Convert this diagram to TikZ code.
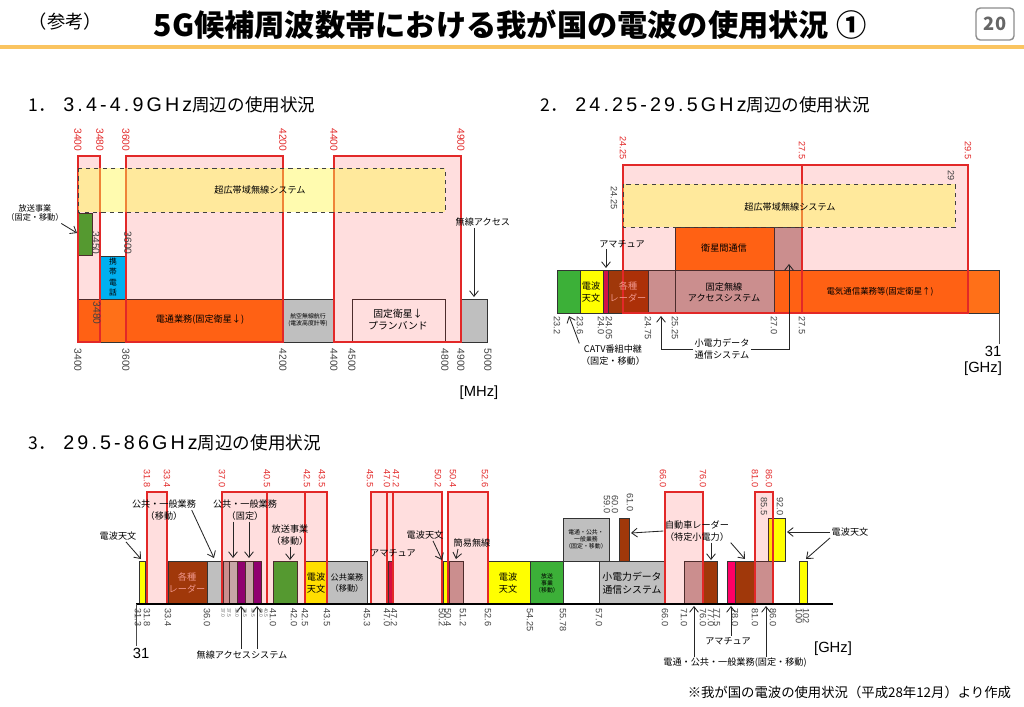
\documentclass[tikz,border=0pt]{standalone}
\usepackage{fontspec}
\setmainfont{Noto Sans CJK JP}
\newfontfamily\numfont{Liberation Sans}
\newfontfamily\headlatin[LetterSpace=16]{Liberation Sans}
\usepackage{tikz}
\usetikzlibrary{positioning, arrows.meta}

\definecolor{headline}{RGB}{250,196,96}
\definecolor{bandgreen}{RGB}{60,176,56}
\definecolor{bandcyan}{RGB}{0,176,240}
\definecolor{bandorange}{RGB}{255,112,24}
\definecolor{bandgray}{RGB}{191,191,191}
\definecolor{bandmauve}{RGB}{196,164,164}
\definecolor{bandbrown}{RGB}{160,56,10}
\definecolor{bandpurple}{RGB}{128,0,128}
\definecolor{bandcrimson}{RGB}{210,16,72}
\definecolor{bandhotpink}{RGB}{255,0,102}
\definecolor{bandyellow}{RGB}{255,255,0}
\definecolor{boxred}{RGB}{226,40,40}
\definecolor{radartext}{RGB}{240,150,140}

\begin{document}
\begin{tikzpicture}[x=0.025cm, y=-0.025cm,
    band/.style={draw=black!80, line width=0.4pt},
    pink_box/.style={fill=red, fill opacity=0.13, draw=boxred, line width=0.9pt},
    uwb_box/.style={fill=yellow!70, fill opacity=0.45, draw=black!75, dashed, line width=0.5pt},
    red_mhz/.style={rotate=-90, anchor=east, text=boxred, font=\numfont\fontsize{7.3}{8}\selectfont, inner sep=1pt},
    red_ghz/.style={rotate=-90, anchor=east, text=boxred, font=\numfont\fontsize{6.5}{7}\selectfont, inner sep=1pt},
    tick_mhz/.style={rotate=-90, anchor=west, text=black!75, font=\numfont\fontsize{7.3}{8}\selectfont, inner sep=1pt},
    tick_ghz/.style={rotate=-90, anchor=west, text=black!75, font=\numfont\fontsize{6.5}{7}\selectfont, inner sep=1pt},
    tick_tiny/.style={rotate=-90, anchor=west, text=black!60, font=\numfont\fontsize{3.5}{4}\selectfont, inner sep=0.5pt},
    small_text/.style={font=\fontsize{6.5}{8}\selectfont, align=center, inner sep=1pt},
    tiny_text/.style={font=\fontsize{4.2}{5}\selectfont, align=center, inner sep=0.5pt},
    unit_text/.style={font=\numfont\fontsize{10.5}{12}\selectfont, inner sep=1pt},
    heading/.style={anchor=west, font=\fontsize{12.5}{14}\selectfont},
    arrow_style/.style={draw=black!85, line width=0.6pt, -{Straight Barb[length=1.4mm, width=2.2mm]}}
]
\useasboundingbox (0,0) rectangle (1024,706);

% Header
\node[anchor=west, font=\fontsize{13}{15}\selectfont] (sankou) at (24,22) {（参考）};
\node[font=\bfseries\fontsize{21.5}{24}\selectfont] (title) at (510,25) {5G候補周波数帯における我が国の電波の使用状況 ①};
\draw[draw=black!45, line width=1pt, rounded corners=3pt] (976,8) rectangle (1014,40);
\node[font=\bfseries\fontsize{13}{15}\selectfont, text=black!60] (page) at (995,24) {20};
\draw[draw=headline, line width=2.5pt] (0,47) -- (1024,47);

% ---------------- Section 1: 3.4-4.9GHz ----------------
\node[heading] (h1) at (24,105) {1．\hspace{0.4em}{\headlatin\fontsize{14}{15}\selectfont 3.4-4.9GHz}周辺の使用状況};

% bands
\draw[band, fill=bandgreen] (78,213) rectangle (92,255);
\draw[band, fill=bandcyan] (100,256) rectangle (126,299);
\draw[band, fill=bandorange] (78,299) rectangle (283,342);
\draw[band, fill=bandgray] (283,299) rectangle (334,342);
\draw[band, fill=white] (352,299) rectangle (445,342);
\draw[band, fill=bandgray] (461,299) rectangle (487,342);

% candidate bands
\draw[pink_box] (78,156) rectangle (100,342);
\draw[pink_box] (126,156) rectangle (283,342);
\draw[pink_box] (334,156) rectangle (461,342);
\draw[uwb_box] (78,168) rectangle (445,212);

% texts
\node[small_text] (s1_uwb) at (260,190) {超広帯域無線システム};
\node[small_text] (s1_fss) at (200,320) {電通業務(固定衛星↓)};
\node[tiny_text] (s1_aero) at (308,320) {航空無線航行\\(電波高度計等)};
\node[small_text, font=\fontsize{7}{8.5}\selectfont] (s1_plan) at (398,320) {固定衛星↓\\プランバンド};
\node[small_text, font=\fontsize{5.5}{7.4}\selectfont] (s1_mobile) at (113,277) {携\\帯\\電\\話};
\node[small_text, anchor=west] (s1_bwa) at (454,222) {無線アクセス};
\node[small_text, font=\fontsize{5.8}{7}\selectfont] (s1_bcast) at (35,213) {放送事業\\（固定・移動）};

% arrows
\coordinate (s1_bwa_tip) at (474,297);
\coordinate (s1_green_tip) at (77,233);
\draw[arrow_style] (s1_bwa.south -| s1_bwa_tip) -- (s1_bwa_tip);
\draw[arrow_style] ([xshift=-0.1cm]s1_bcast.south east) -- (s1_green_tip);

% frequencies
\node[red_mhz] (s1_r3400) at (78,153) {3400};
\node[red_mhz] (s1_r3480) at (100,153) {3480};
\node[red_mhz] (s1_r3600) at (126,153) {3600};
\node[red_mhz] (s1_r4200) at (283,153) {4200};
\node[red_mhz] (s1_r4400) at (334,153) {4400};
\node[red_mhz] (s1_r4900) at (461,153) {4900};
\node[tick_mhz] (s1_i3450) at (96,230) {3450};
\node[tick_mhz] (s1_i3600) at (128,230) {3600};
\node[tick_mhz] (s1_i3480) at (97,300) {3480};
\node[tick_mhz] (s1_b3400) at (78,347) {3400};
\node[tick_mhz] (s1_b3600) at (126,347) {3600};
\node[tick_mhz] (s1_b4200) at (283,347) {4200};
\node[tick_mhz] (s1_b4400) at (334,347) {4400};
\node[tick_mhz] (s1_b4500) at (352,347) {4500};
\node[tick_mhz] (s1_b4800) at (445,347) {4800};
\node[tick_mhz] (s1_b4900) at (461,347) {4900};
\node[tick_mhz] (s1_b5000) at (488,347) {5000};
\node[unit_text] (s1_unit) at (479,393) {[MHz]};

% ---------------- Section 2: 24.25-29.5GHz ----------------
\node[heading] (h2) at (536,105) {2．\hspace{0.4em}{\headlatin\fontsize{14}{15}\selectfont 24.25-29.5GHz}周辺の使用状況};

% bands
\draw[band, fill=bandgreen] (557,270) rectangle (580,313);
\draw[band, fill=bandyellow] (580,270) rectangle (603,313);
\draw[band, fill=bandcrimson] (603,270) rectangle (608,313);
\draw[band, fill=bandbrown] (608,270) rectangle (648,313);
\draw[band, fill=bandmauve] (648,270) rectangle (675,313);
\draw[band, fill=bandmauve] (675,270) rectangle (774,313);
\draw[band, fill=bandorange] (774,270) rectangle (999,313);
\draw[band, fill=bandorange] (675,227) rectangle (774,270);
\draw[band, fill=bandmauve] (774,227) rectangle (802,270);

% candidate bands
\draw[pink_box] (623,165) rectangle (802,313);
\draw[pink_box] (802,165) rectangle (968,313);
\draw[uwb_box] (623,184) rectangle (955,227);

% texts
\node[small_text] (s2_uwb) at (790,207) {超広帯域無線システム};
\node[small_text] (s2_isl) at (724,248) {衛星間通信};
\node[small_text] (s2_fwa) at (724,292) {固定無線\\アクセスシステム};
\node[small_text] (s2_ra) at (591,292) {電波\\天文};
\node[small_text, text=radartext] (s2_radar) at (628,292) {各種\\レーダー};
\node[small_text, font=\fontsize{6}{7}\selectfont] (s2_fss) at (880,292) {電気通信業務等(固定衛星↑)};
\node[small_text] (s2_amateur) at (622,244) {アマチュア};
\node[small_text] (s2_catv) at (613,355) {CATV番組中継\\（固定・移動）};
\node[small_text] (s2_srd) at (722,349) {小電力データ\\通信システム};

% arrows
\coordinate (s2_amateur_tip) at (606,268);
\coordinate (s2_catv_tip) at (569,316);
\coordinate (s2_srd_tip1) at (661,316);
\coordinate (s2_srd_tip2) at (789,264);
\draw[arrow_style] (s2_amateur.south -| s2_amateur_tip) -- (s2_amateur_tip);
\draw[arrow_style] (s2_catv.north west) -- (s2_catv_tip);
\draw[arrow_style] (s2_srd.west) -| (s2_srd_tip1);
\draw[arrow_style] (s2_srd.east) -| (s2_srd_tip2);

% frequencies
\node[red_ghz] (s2_r2425) at (623,161) {24.25};
\node[red_ghz] (s2_r275) at (802,161) {27.5};
\node[red_ghz] (s2_r295) at (968,161) {29.5};
\node[tick_ghz] (s2_i2425) at (614,185) {24.25};
\node[tick_ghz] (s2_i29) at (951,169) {29};
\node[tick_ghz] (s2_b232) at (557,315) {23.2};
\node[tick_ghz] (s2_b236) at (580,315) {23.6};
\node[tick_ghz] (s2_b240) at (601,315) {24.0};
\node[tick_ghz] (s2_b2405) at (609,315) {24.05};
\node[tick_ghz] (s2_b2475) at (648,315) {24.75};
\node[tick_ghz] (s2_b2525) at (675,315) {25.25};
\node[tick_ghz] (s2_b270) at (774,315) {27.0};
\node[tick_ghz] (s2_b275) at (802,315) {27.5};
\node[unit_text] (s2_31) at (993,351) {31};
\draw[black!70] (999,313) -- (s2_31.north -| 999,313);
\node[unit_text] (s2_unit) at (983,369) {[GHz]};

% ---------------- Section 3: 29.5-86GHz ----------------
\node[heading] (h3) at (24,443) {3．\hspace{0.4em}{\headlatin\fontsize{14}{15}\selectfont 29.5-86GHz}周辺の使用状況};

% lower bands
\draw[band, fill=bandyellow] (139,561) rectangle (145,604);
\draw[band, fill=bandbrown] (168,561) rectangle (207,604);
\draw[band, fill=bandgray] (207,561) rectangle (223,604);
\draw[band, fill=bandmauve] (223,561) rectangle (229,604);
\draw[band, fill=bandgray] (229,561) rectangle (237,604);
\draw[band, fill=bandpurple] (237,561) rectangle (245,604);
\draw[band, fill=bandgray] (245,561) rectangle (253,604);
\draw[band, fill=bandpurple] (253,561) rectangle (261,604);
\draw[band, fill=bandgreen] (273,561) rectangle (297,604);
\draw[band, fill=bandyellow] (305,561) rectangle (327,604);
\draw[band, fill=bandgray] (327,561) rectangle (367,604);
\draw[band, fill=bandcrimson] (388,561) rectangle (393,604);
\draw[band, fill=bandyellow] (443,561) rectangle (448,604);
\draw[band, fill=bandmauve] (449,561) rectangle (463,604);
\draw[band, fill=bandyellow] (488,561) rectangle (530,604);
\draw[band, fill=bandgreen] (530,561) rectangle (563,604);
\draw[band, fill=bandgray] (599,561) rectangle (665,604);
\draw[band, fill=bandmauve] (684,561) rectangle (703,604);
\draw[band, fill=bandbrown] (703,561) rectangle (717,604);
\draw[band, fill=bandhotpink] (727,561) rectangle (735,604);
\draw[band, fill=bandbrown] (735,561) rectangle (755,604);
\draw[band, fill=bandmauve] (755,561) rectangle (773,604);
\draw[band, fill=bandyellow] (799,561) rectangle (807,604);

% upper bands
\draw[band, fill=bandgray] (563,518) rectangle (609,561);
\draw[band, fill=bandbrown] (619,518) rectangle (629,561);
\draw[band, fill=bandyellow] (768,518) rectangle (785,561);

% candidate bands
\draw[pink_box] (147,492) rectangle (167,604);
\draw[pink_box] (222,492) rectangle (267,604);
\draw[pink_box] (267,492) rectangle (305,604);
\draw[pink_box] (305,492) rectangle (327,604);
\draw[pink_box] (371,492) rectangle (387,604);
\draw[pink_box] (387,492) rectangle (393,604);
\draw[pink_box] (393,492) rectangle (442,604);
\draw[pink_box] (448,492) rectangle (488,604);
\draw[pink_box] (665,492) rectangle (703,604);
\draw[pink_box] (755,492) rectangle (773,604);

% axis
\draw[line width=1.5pt] (136,604) -- (833,604);
\node[unit_text] (s3_31) at (141,653) {31};
\draw[black!70] (136,604) -- (s3_31.north -| 136,604);
\node[unit_text] (s3_unit) at (833,649) {[GHz]};

% texts
\node[small_text, text=radartext] (s3_radar) at (187,583) {各種\\レーダー};
\node[small_text] (s3_ra2) at (316,583) {電波\\天文};
\node[small_text, font=\fontsize{5.8}{7.5}\selectfont] (s3_pubm) at (347,583) {公共業務\\（移動）};
\node[small_text] (s3_ra4) at (508,583) {電波\\天文};
\node[tiny_text] (s3_bc2) at (547,583) {放送\\事業\\（移動）};
\node[tiny_text] (s3_tel) at (586,539) {電通・公共・\\一般業務\\（固定・移動）};
\node[small_text, font=\fontsize{7}{9}\selectfont] (s3_srd) at (632,583) {小電力データ\\通信システム};
\node[small_text] (s3_ra1) at (118,536) {電波天文};
\node[small_text] (s3_pub1) at (164,510) {公共・一般業務\\（移動）};
\node[small_text] (s3_pub2) at (245,510) {公共・一般業務\\（固定）};
\node[small_text] (s3_bc) at (290,535) {放送事業\\（移動）};
\node[small_text] (s3_bwa) at (242,655) {無線アクセスシステム};
\node[small_text] (s3_amateur1) at (393,553) {アマチュア};
\node[small_text] (s3_ra3) at (425,535) {電波天文};
\node[small_text] (s3_simple) at (472,543) {簡易無線};
\node[small_text] (s3_car) at (697,531) {自動車レーダー\\（特定小電力）};
\node[small_text] (s3_amateur2) at (728,641) {アマチュア};
\node[small_text] (s3_tel2) at (735,663) {電通・公共・一般業務(固定・移動)};
\node[small_text] (s3_ra5) at (850,532) {電波天文};

% arrows
\coordinate (s3_ra1_tip) at (141,559);
\coordinate (s3_pub1_tip) at (214,558);
\coordinate (s3_pub2_tip1) at (233,558);
\coordinate (s3_pub2_tip2) at (249,558);
\coordinate (s3_bc_tip) at (290,560);
\coordinate (s3_bwa_tip1) at (241,606);
\coordinate (s3_bwa_tip2) at (257,606);
\coordinate (s3_ra3_tip) at (442,560);
\coordinate (s3_simple_tip) at (456,559);
\coordinate (s3_car_tip1) at (631,533);
\coordinate (s3_car_tip2) at (711,560);
\coordinate (s3_car_tip3) at (745,559);
\coordinate (s3_amateur2_tip) at (731,606);
\coordinate (s3_tel2_tip1) at (694,606);
\coordinate (s3_tel2_tip2) at (766,606);
\coordinate (s3_ra5_tip1) at (787,532);
\coordinate (s3_ra5_tip2) at (806,559);
\draw[arrow_style] ([xshift=0.2cm]s3_ra1.south) -- (s3_ra1_tip);
\draw[arrow_style] ([xshift=-0.15cm]s3_pub1.east) -- (s3_pub1_tip);
\draw[arrow_style] (s3_pub2.south -| s3_pub2_tip1) -- (s3_pub2_tip1);
\draw[arrow_style] (s3_pub2.south -| s3_pub2_tip2) -- (s3_pub2_tip2);
\draw[arrow_style] (s3_bc.south) -- (s3_bc_tip);
\draw[arrow_style] (s3_bwa.north -| s3_bwa_tip1) -- (s3_bwa_tip1);
\draw[arrow_style] (s3_bwa.north -| s3_bwa_tip2) -- (s3_bwa_tip2);
\draw[arrow_style] ([xshift=0.2cm]s3_ra3.south) -- (s3_ra3_tip);
\draw[arrow_style] ([xshift=-0.35cm]s3_simple.south) -- (s3_simple_tip);
\draw[arrow_style] (s3_car.west) -- (s3_car_tip1);
\draw[arrow_style] (s3_car.south -| s3_car_tip2) -- (s3_car_tip2);
\draw[arrow_style] (s3_car.south east) -- (s3_car_tip3);
\draw[arrow_style] (s3_amateur2.north -| s3_amateur2_tip) -- (s3_amateur2_tip);
\draw[arrow_style] (s3_tel2.north -| s3_tel2_tip1) -- (s3_tel2_tip1);
\draw[arrow_style] (s3_tel2.north -| s3_tel2_tip2) -- (s3_tel2_tip2);
\draw[arrow_style] (s3_ra5.west) -- (s3_ra5_tip1);
\draw[arrow_style] (s3_ra5.south west) -- (s3_ra5_tip2);

% frequencies (top, red)
\node[red_ghz] (s3_r318) at (147,489) {31.8};
\node[red_ghz] (s3_r334) at (167,489) {33.4};
\node[red_ghz] (s3_r370) at (222,489) {37.0};
\node[red_ghz] (s3_r405) at (267,489) {40.5};
\node[red_ghz] (s3_r425) at (307,489) {42.5};
\node[red_ghz] (s3_r435) at (322,489) {43.5};
\node[red_ghz] (s3_r455) at (370,489) {45.5};
\node[red_ghz] (s3_r470) at (387,489) {47.0};
\node[red_ghz] (s3_r472) at (396,489) {47.2};
\node[red_ghz] (s3_r502) at (438,489) {50.2};
\node[red_ghz] (s3_r504) at (453,489) {50.4};
\node[red_ghz] (s3_r526) at (485,489) {52.6};
\node[red_ghz] (s3_r660) at (663,489) {66.0};
\node[red_ghz] (s3_r760) at (703,489) {76.0};
\node[red_ghz] (s3_r810) at (755,489) {81.0};
\node[red_ghz] (s3_r860) at (769,489) {86.0};

% frequencies (upper bands)
\node[red_ghz, text=black!75] (s3_u590) at (607,515) {59.0};
\node[red_ghz, text=black!75] (s3_u600) at (615,515) {60.0};
\node[red_ghz, text=black!75] (s3_u610) at (630,513) {61.0};
\node[red_ghz, text=black!75] (s3_u855) at (764,517) {85.5};
\node[red_ghz, text=black!75] (s3_u920) at (780,517) {92.0};

% frequencies (bottom)
\node[tick_ghz] (s3_b313) at (138,607) {31.3};
\node[tick_ghz] (s3_b318) at (147,607) {31.8};
\node[tick_ghz] (s3_b334) at (168,607) {33.4};
\node[tick_ghz] (s3_b360) at (207,607) {36.0};
\node[tick_tiny] (s3_b370) at (223,607) {37.0};
\node[tick_tiny] (s3_b375) at (229,607) {37.5};
\node[tick_tiny] (s3_b380) at (237,607) {38.0};
\node[tick_tiny] (s3_b385) at (245,607) {38.5};
\node[tick_tiny] (s3_b395) at (253,607) {39.5};
\node[tick_tiny] (s3_b400) at (261,607) {40.0};
\node[tick_tiny] (s3_b405) at (266,607) {40.5};
\node[tick_ghz] (s3_b410) at (273,607) {41.0};
\node[tick_ghz] (s3_b420) at (294,607) {42.0};
\node[tick_ghz] (s3_b425) at (305,607) {42.5};
\node[tick_ghz] (s3_b435) at (327,607) {43.5};
\node[tick_ghz] (s3_b453) at (367,607) {45.3};
\node[tick_ghz] (s3_b470) at (387,607) {47.0};
\node[tick_ghz] (s3_b472) at (394,607) {47.2};
\node[tick_ghz] (s3_b502) at (442,607) {50.2};
\node[tick_ghz] (s3_b504) at (448,607) {50.4};
\node[tick_ghz] (s3_b512) at (463,607) {51.2};
\node[tick_ghz] (s3_b526) at (488,607) {52.6};
\node[tick_ghz] (s3_b5425) at (530,607) {54.25};
\node[tick_ghz] (s3_b5578) at (563,607) {55.78};
\node[tick_ghz] (s3_b570) at (599,607) {57.0};
\node[tick_ghz] (s3_b660) at (665,607) {66.0};
\node[tick_ghz] (s3_b710) at (684,607) {71.0};
\node[tick_ghz] (s3_b760) at (703,607) {76.0};
\node[tick_ghz] (s3_b770) at (711,607) {77.0};
\node[tick_ghz] (s3_b775) at (717,607) {77.5};
\node[tick_ghz] (s3_b780) at (735,607) {78.0};
\node[tick_ghz] (s3_b810) at (755,607) {81.0};
\node[tick_ghz] (s3_b860) at (773,607) {86.0};
\node[tick_ghz] (s3_b100) at (799,607) {100};
\node[tick_ghz] (s3_b102) at (806,607) {102};

% Footer
\node[anchor=east, font=\fontsize{9.5}{11}\selectfont] (source) at (1016,692) {※我が国の電波の使用状況（平成28年12月）より作成};

\end{tikzpicture}
\end{document}
